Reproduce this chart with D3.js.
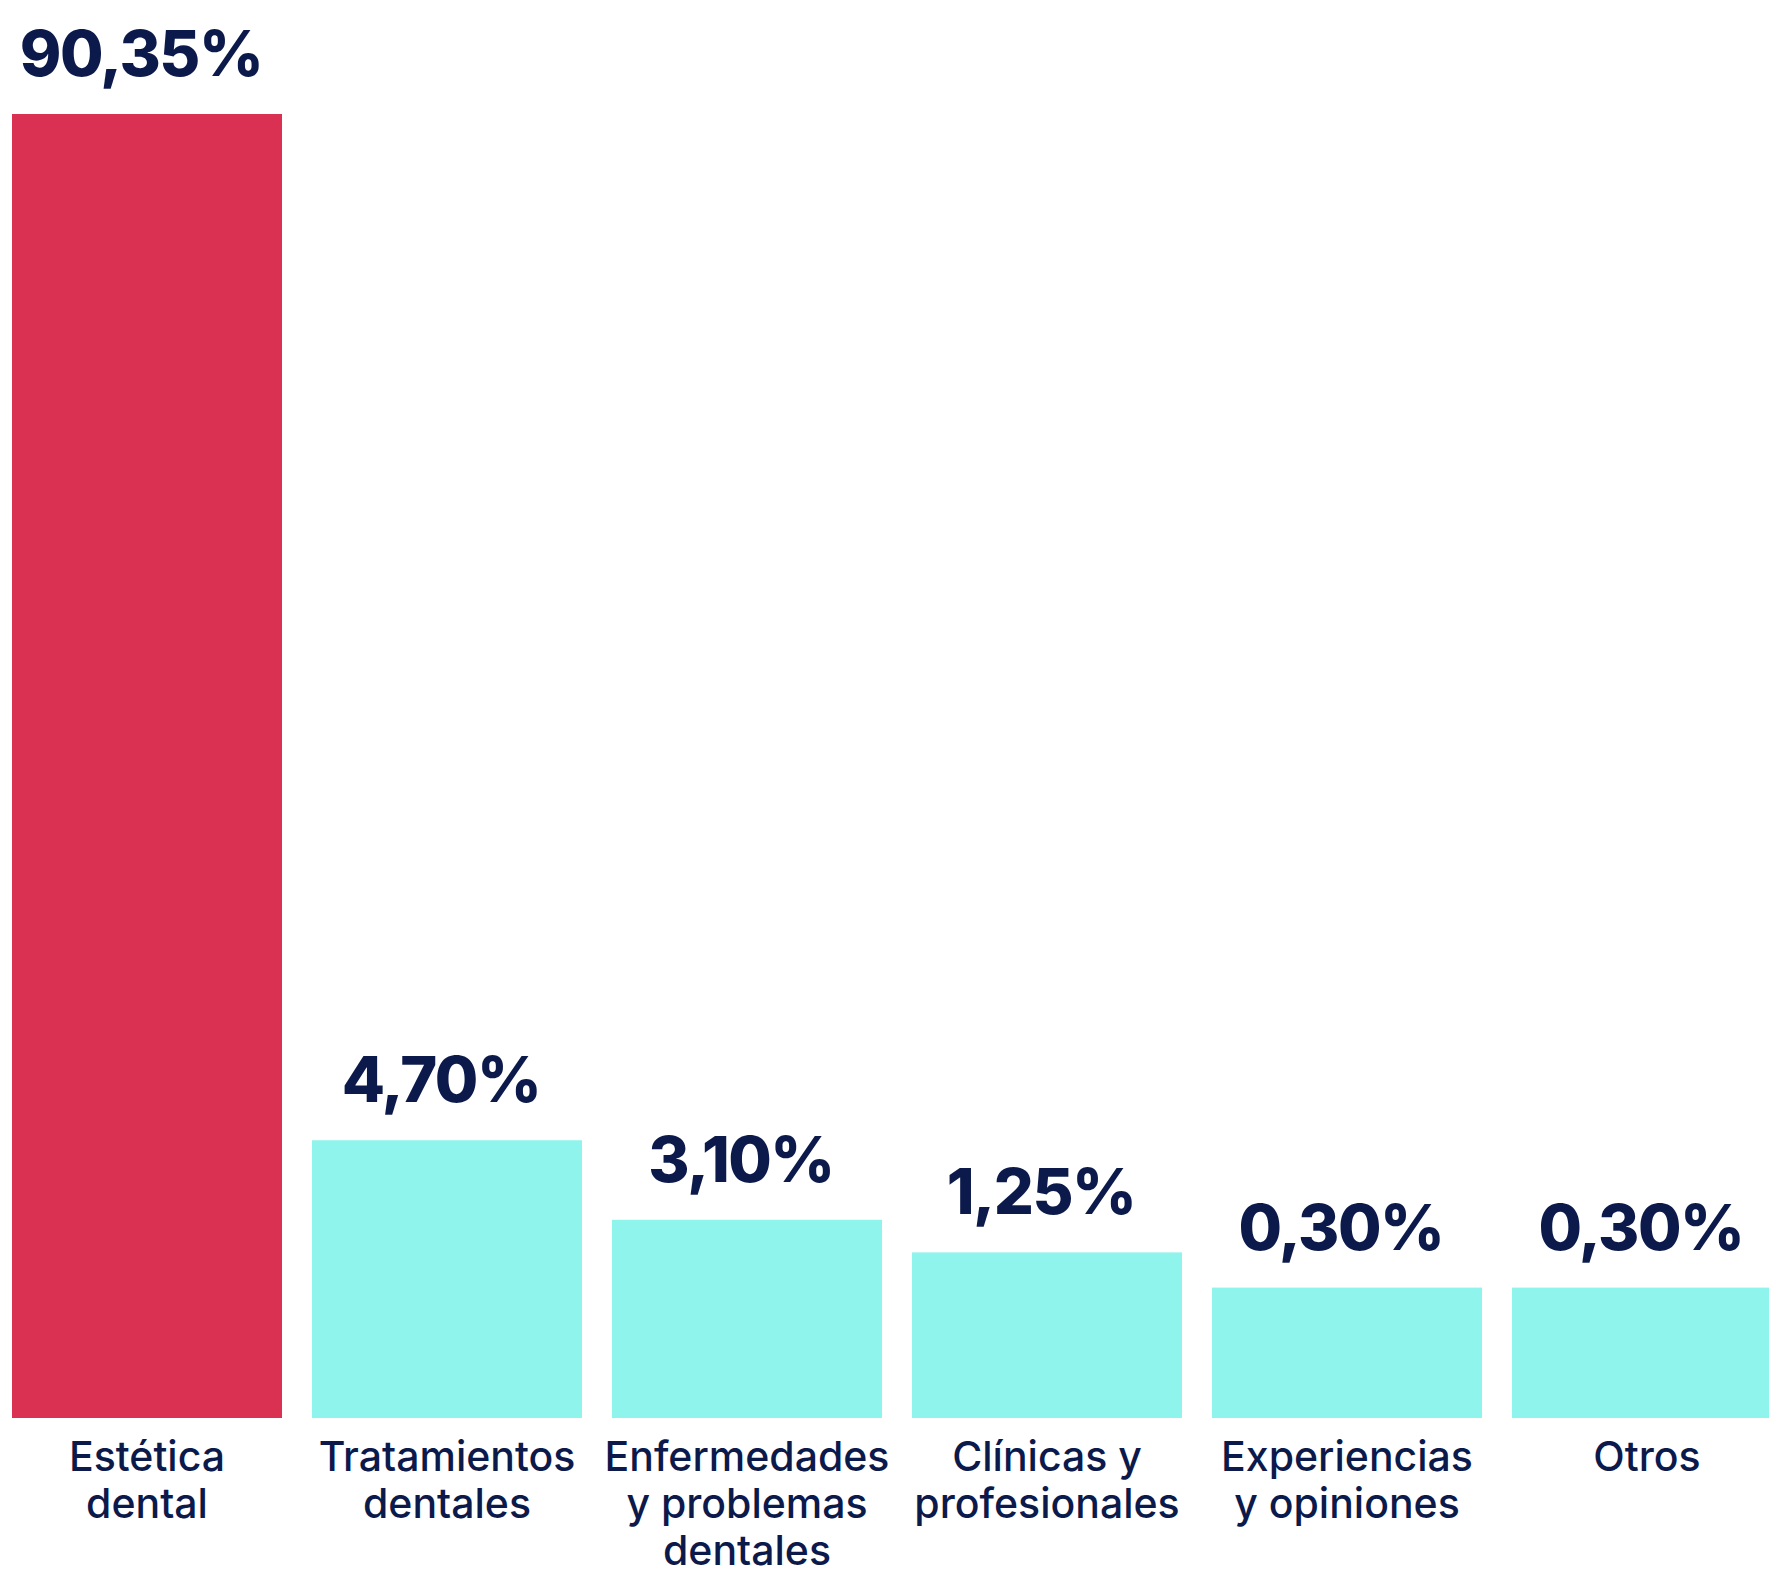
<!DOCTYPE html>
<html>
<head>
<meta charset="utf-8">
<script src="https://cdn.jsdelivr.net/npm/d3@7"></script>
<style>
  body { margin: 0; background: #fff; }
  svg { display: block; }
</style>
</head>
<body>
<div id="graph"></div>
<script>
// categories (each label split in lines)
var categories = ["Estética dental", "Tratamientos dentales", "Enfermedades y problemas dentales",
  "Clínicas y profesionales", "Experiencias y opiniones", "Otros"];
var labelLines = [["Estética", "dental"], ["Tratamientos", "dentales"], ["Enfermedades", "y problemas", "dentales"],
  ["Clínicas y", "profesionales"], ["Experiencias", "y opiniones"], ["Otros"]];
// share of each category (%)
var values = [90.35, 4.70, 3.10, 1.25, 0.30, 0.30];
// visual bar level (tallest bar = 100), bars are not to scale in the original
var barLevel = [100, 21.3, 15.2, 12.7, 10.0, 10.0];
var highlight = [true, false, false, false, false, false];

var svgWidth = 1769, svgHeight = 1569;
var baseY = 1418, topY = 114;

var xScale = d3.scaleBand().domain(categories).range([-3, 1797]).paddingInner(0.1).paddingOuter(0.05);
var yScale = d3.scaleLinear().domain([0, 100]).range([baseY, topY]);

var fmt = function(v) { return v.toFixed(2).replace(".", ",") + "%"; };

var svg = d3.select("#graph").append("svg")
  .attr("width", svgWidth)
  .attr("height", svgHeight);

var rows = categories.map(function(c, i) {
  return {cat: c, value: values[i], level: barLevel[i], hi: highlight[i], lines: labelLines[i]};
});

var cx = function(d) { return xScale(d.cat) + xScale.bandwidth() / 2; };

// bars
svg.selectAll("rect.bar").data(rows).enter().append("rect")
  .attr("class", "bar")
  .attr("x", function(d) { return xScale(d.cat); })
  .attr("width", xScale.bandwidth())
  .attr("y", function(d) { return yScale(d.level); })
  .attr("height", function(d) { return baseY - yScale(d.level); })
  .style("fill", function(d) { return d.hi ? "#DA3052" : "#8EF4EC"; });

// value labels
svg.selectAll("text.val").data(rows).enter().append("text")
  .attr("class", "val")
  .attr("x", function(d) { return cx(d) - 6; })
  .attr("y", function(d) { return yScale(d.level) - 38; })
  .attr("text-anchor", "middle")
  .style("font-family", "Inter, 'Noto Sans', sans-serif")
  .style("font-weight", 800)
  .style("font-size", "63px")
  .style("letter-spacing", "-1.5px")
  .style("fill", "#0C1A4B")
  .text(function(d) { return fmt(d.value); });

// category labels
var cat = svg.selectAll("text.cat").data(rows).enter().append("text")
  .attr("class", "cat")
  .attr("text-anchor", "middle")
  .attr("x", cx)
  .attr("y", 1471)
  .style("font-family", "Inter, 'Noto Sans', sans-serif")
  .style("font-weight", 500)
  .style("font-size", "41px")
  .style("fill", "#0C1A4B");

cat.selectAll("tspan").data(function(d) { return d.lines; }).enter().append("tspan")
  .attr("x", function() { return cx(d3.select(this.parentNode).datum()); })
  .attr("dy", function(d, i) { return i === 0 ? 0 : 47; })
  .text(function(d) { return d; });
</script>
</body>
</html>
